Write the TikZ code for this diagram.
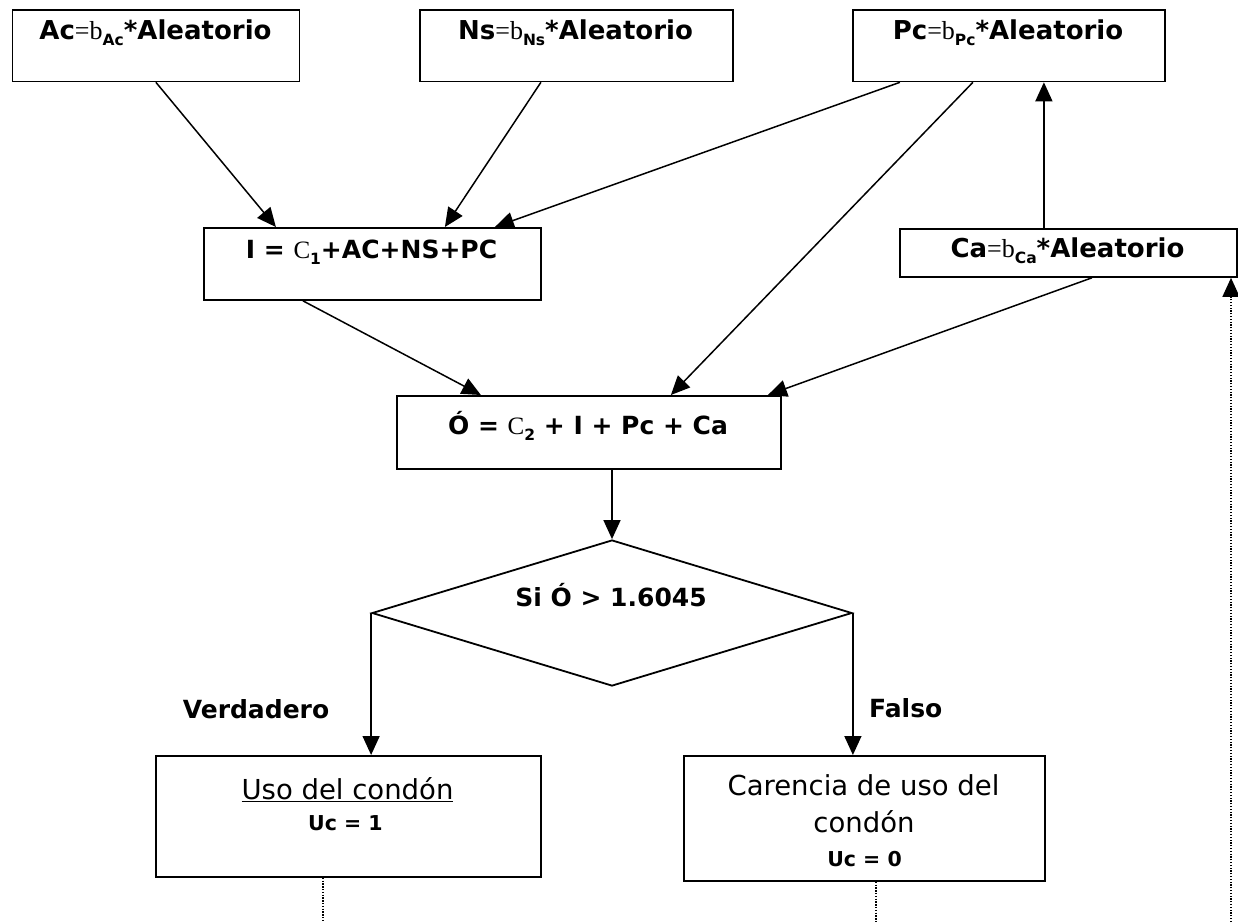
\documentclass[tikz,border=0pt]{standalone}
\usepackage{fontspec}
\setmainfont{DejaVu Sans}
\newfontfamily\tms{Liberation Serif}
\usetikzlibrary{arrows.meta,shapes.geometric,calc}
\newcommand{\lowsub}[1]{\raisebox{-6pt}{\fontsize{15.5}{15.5}\selectfont #1}}
\begin{document}
\begin{tikzpicture}[x=1pt,y=-1pt,
  box/.style={draw, line width=1.8pt, inner sep=0pt, anchor=north west},
  txt/.style={inner sep=0pt, anchor=base, font=\fontsize{25}{30}\selectfont\bfseries},
  toptxt/.style={inner sep=0pt, anchor=base, font=\fontsize{26}{30}\selectfont\bfseries},
  regtxt/.style={inner sep=0pt, anchor=base, font=\fontsize{27.5}{32}\selectfont},
  smalltxt/.style={inner sep=0pt, anchor=base, font=\fontsize{20.5}{24}\selectfont\bfseries},
  arr/.style={line width=1.5pt, -{Triangle[length=19pt,width=17pt]}},
  dotline/.style={line width=1.3pt, dash pattern=on 1.3pt off 1.5pt}]
\useasboundingbox (0,0) rectangle (1238,922);
\fill[white] (0,0) rectangle (1238,922);
% boxes
\node[box, minimum width=287pt, minimum height=71.5pt] (ac) at (11.5,9) {};
\node[box, minimum width=313pt, minimum height=71.5pt] (ns) at (419,9) {};
\node[box, minimum width=312pt, minimum height=71.5pt] (pc) at (852,9) {};
\node[box, minimum width=337pt, minimum height=72pt] (i) at (203,227) {};
\node[box, minimum width=384pt, minimum height=73pt] (o) at (396,395) {};
\node[box, minimum width=337pt, minimum height=48pt] (ca) at (899,228) {};
\node[box, minimum width=385pt, minimum height=121pt] (uso) at (155,755) {};
\node[box, minimum width=361pt, minimum height=125pt] (car) at (683,755) {};
\node[draw, line width=1.8pt, shape=diamond, minimum width=480pt, minimum height=146pt, inner sep=0pt] (dec) at (612,613) {};
% texts
\node[toptxt] (tac) at (155.5,39) {Ac{\tms\mdseries=b}\lowsub{Ac}*Aleatorio};
\node[toptxt] (tns) at (575.5,39) {Ns{\tms\mdseries=b}\lowsub{Ns}*Aleatorio};
\node[toptxt] (tpc) at (1008,39) {Pc{\tms\mdseries=b}\lowsub{Pc}*Aleatorio};
\node[txt] (ti) at (371.5,258) {I = {\tms\mdseries C}\lowsub{1}+AC+NS+PC};
\node[txt] (to) at (588,434) {Ó = {\tms\mdseries C}\lowsub{2} + I + Pc + Ca};
\node[toptxt] (tca) at (1067.5,257) {Ca{\tms\mdseries=b}\lowsub{Ca}*Aleatorio};
\node[txt] (tdec) at (611,606) {Si Ó > 1.6045};
\node[txt] (tver) at (256,718) {Verdadero};
\node[txt, anchor=base west] (tfal) at (869,717) {Falso};
\node[regtxt] (tuso) at (347.5,799) {\underline{Uso del condón}};
\node[smalltxt] (tuc1) at (345.5,830) {Uc = 1};
\node[regtxt] (tcar1) at (863.5,795) {Carencia de uso del};
\node[regtxt] (tcar2) at (864,832) {condón};
\node[smalltxt] (tuc0) at (864.5,866) {Uc = 0};
% connectors
\draw[arr] (ac.south) -- ([xshift=-96.5pt]i.north);
\draw[arr] ([xshift=-35.5pt]ns.south) -- ([xshift=72.5pt]i.north);
\draw[arr] ([xshift=-109pt]pc.south) -- ([xshift=122.5pt]i.north);
\draw[arr] ([xshift=-36pt]pc.south) -- ([xshift=82pt]o.north);
\draw[arr] ([xshift=-69.5pt]i.south) -- ([xshift=-108pt]o.north);
\draw[arr] ([xshift=23.5pt]ca.south) -- ([xshift=179pt]o.north);
\draw[arr] ([xshift=-24.5pt]ca.north) -- ([xshift=-24.5pt]ca.north |- pc.south);
\draw[arr] (o.south -| dec.north) -- (dec.north);
\draw[arr] (dec.west) -- (dec.west |- uso.north);
\draw[arr] (dec.east) -- (dec.east |- car.north);
% dotted continuations
\coordinate (ub) at (323,922);
\coordinate (cb) at (876,922);
\coordinate (rb) at (1231,922);
\draw[dotline] (uso.south -| ub) -- (ub);
\draw[dotline] (car.south -| cb) -- (cb);
\draw[dotline, -{Triangle[length=19pt,width=17pt]}] (rb) -- (rb |- ca.south);
\end{tikzpicture}
\end{document}
